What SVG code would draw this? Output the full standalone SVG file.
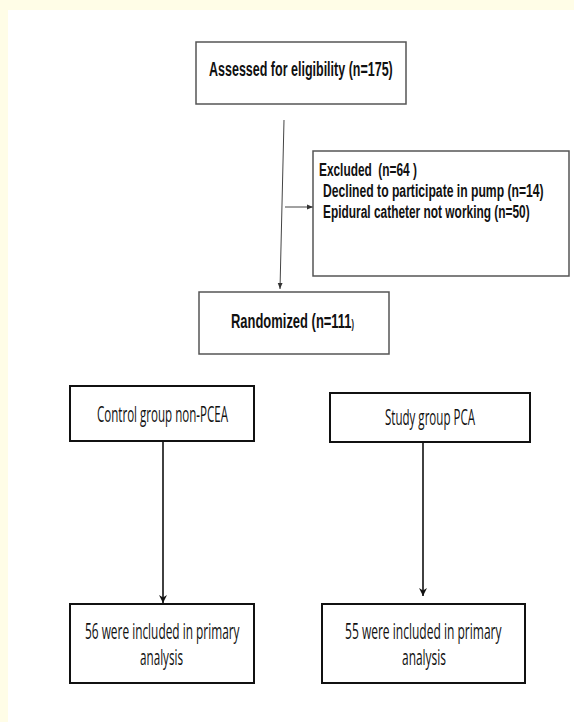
<svg xmlns="http://www.w3.org/2000/svg" width="574" height="722" viewBox="0 0 574 722">
<style>
.bx{fill:#fff;stroke:#555;stroke-width:1.5}
.bk{fill:#fff;stroke:#111;stroke-width:2}
.b{font-family:"Liberation Sans",Arial,sans-serif;font-weight:bold;fill:#111}
.c{font-family:"Open Sans","Noto Sans",sans-serif;font-size:21px;fill:#111}
.ln{fill:none;stroke:#444;stroke-width:1}
.lk{fill:none;stroke:#111;stroke-width:1.6}
</style>
<defs>
<marker id="ah" viewBox="0 0 10 10" refX="10" refY="5" markerWidth="6" markerHeight="6" orient="auto" markerUnits="userSpaceOnUse">
<path d="M0,1 L10,5 L0,9 z" fill="#333"/>
</marker>
<marker id="ak" viewBox="0 0 10 10" refX="10" refY="5" markerWidth="10" markerHeight="8" orient="auto" markerUnits="userSpaceOnUse">
<path d="M0,0 L10,5 L0,10 L3,5 z" fill="#111"/>
</marker>
</defs>
<rect x="0" y="0" width="574" height="722" fill="#fffde7"/>
<rect x="8" y="10" width="566" height="712" fill="#fff"/>
<g id="connectors">
<path class="ln" d="M284,120 L280,289" marker-end="url(#ah)"/>
<path class="ln" d="M285,207 L313,207" marker-end="url(#ah)"/>
<path class="lk" d="M163,441 L163,603" marker-end="url(#ak)"/>
<path class="lk" d="M423,442 L423,596" marker-end="url(#ak)"/>
</g>
<g id="assessed">
<rect class="bx" x="196" y="42" width="210" height="62"/>
<text class="b" font-size="21" transform="translate(209,76) scale(0.596,1)">Assessed for eligibility (n=175)</text>
</g>
<g id="excluded">
<rect class="bx" x="313" y="151" width="256" height="125"/>
<text class="b" font-size="19" transform="translate(319,176) scale(0.625,1)" xml:space="preserve">Excluded  (n=64 )</text>
<text class="b" font-size="19" transform="translate(323,197) scale(0.641,1)">Declined to participate in pump (n=14)</text>
<text class="b" font-size="19" transform="translate(323,218) scale(0.627,1)">Epidural catheter not working (n=50)</text>
</g>
<g id="randomized">
<rect class="bx" x="199" y="292" width="190" height="62"/>
<text class="b" font-size="21" transform="translate(231,328) scale(0.617,1)">Randomized (n=111<tspan font-size="12">)</tspan></text>
</g>
<g id="control">
<rect class="bk" x="70" y="386" width="184" height="55"/>
<text class="c" transform="translate(97,422) scale(0.551,1)">Control group non-PCEA</text>
</g>
<g id="study">
<rect class="bk" x="330" y="393" width="200" height="49"/>
<text class="c" transform="translate(385,425) scale(0.55,1)">Study group PCA</text>
</g>
<g id="analysis-control">
<rect class="bk" x="70" y="604" width="184" height="79"/>
<text class="c" transform="translate(85,639) scale(0.566,1)">56 were included in primary</text>
<text class="c" transform="translate(140,665) scale(0.556,1)">analysis</text>
</g>
<g id="analysis-study">
<rect class="bk" x="322" y="604" width="203" height="79"/>
<text class="c" transform="translate(345,639) scale(0.573,1)">55 were included in primary</text>
<text class="c" transform="translate(402,665) scale(0.569,1)">analysis</text>
</g>
</svg>
